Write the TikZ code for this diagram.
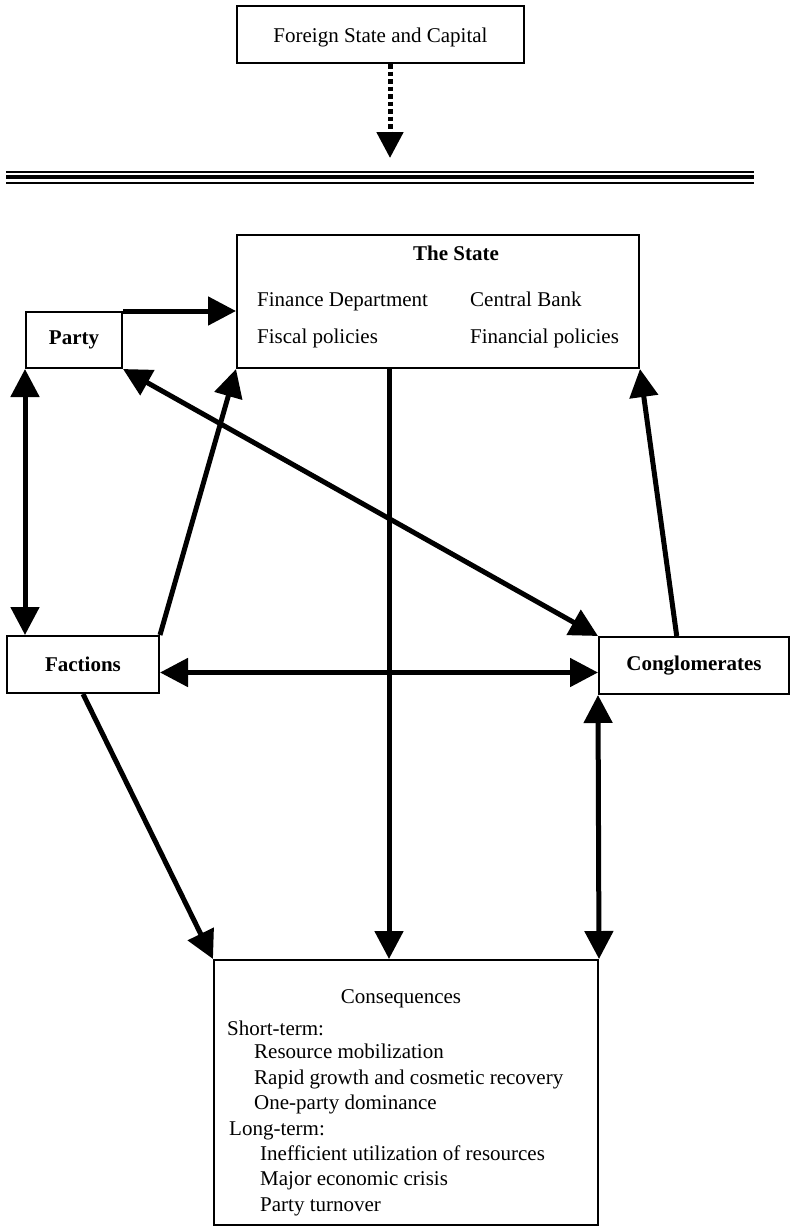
\documentclass[tikz,border=0pt]{standalone}
\usepackage{fontspec}
\setmainfont{Liberation Serif}
\usetikzlibrary{arrows.meta,calc}
\newcommand\dgfont{\fontsize{21}{25}\selectfont}
\begin{document}
\begin{tikzpicture}[x=1pt,y=-1pt,
  box/.style={draw, line width=2pt, inner sep=0pt, font=\dgfont},
  txt/.style={inner sep=0pt, font=\dgfont, anchor=base west},
  arr/.style={line width=5pt, -{Triangle[length=28pt,width=28pt]}},
  dbl/.style={line width=5pt, {Triangle[length=28pt,width=28pt]}-{Triangle[length=28pt,width=28pt]}},
  dotarr/.style={line width=5pt, dash pattern=on 4.5pt off 3pt, -{Triangle[length=26pt,width=26pt]}}]
\useasboundingbox (0,0) rectangle (792,1227);

% boxes
\node[box, minimum width=287pt, minimum height=57pt] (foreign) at (380.5,34.5) {};
\node[txt, anchor=base] (foreigntxt) at (380.5,42) {Foreign State and Capital};

\node[box, minimum width=402pt, minimum height=133pt] (state) at (438,301.5) {};
\node[txt, anchor=base] (statetitle) at (456,260) {\bfseries The State};
\node[txt] (fin) at (257,306) {Finance Department};
\node[txt] (cb) at (470,306) {Central Bank};
\node[txt] (fisc) at (257,343) {Fiscal policies};
\node[txt] (finpol) at (470,343) {Financial policies};

\node[box, minimum width=96pt, minimum height=56pt, font=\dgfont\bfseries] (party) at (74,340) {Party};
\node[box, minimum width=152pt, minimum height=57pt, font=\dgfont\bfseries] (factions) at (83,664.5) {Factions};
\node[box, minimum width=190pt, minimum height=57pt, font=\dgfont\bfseries] (congl) at (694,665.5) {Conglomerates};

\node[box, minimum width=384pt, minimum height=265pt] (cons) at (406,1092.5) {};
\node[txt, anchor=base] (constitle) at (401,1003) {Consequences};
\node[txt] (c1) at (227,1035) {Short-term:};
\node[txt] (c2) at (254,1058.5) {Resource mobilization};
\node[txt] (c3) at (254,1084) {Rapid growth and cosmetic recovery};
\node[txt] (c4) at (254,1109.5) {One-party dominance};
\node[txt] (c5) at (229,1135) {Long-term:};
\node[txt] (c6) at (260,1160.5) {Inefficient utilization of resources};
\node[txt] (c7) at (260,1185.5) {Major economic crisis};
\node[txt] (c8) at (260,1211) {Party turnover};

% triple rule
\draw[line width=2pt] (6,172) -- (754,172);
\draw[line width=4pt] (6,177) -- (754,177);
\draw[line width=2pt] (6,183) -- (754,183);

% connectors
\coordinate (ftip) at (390,158);
\draw[dotarr] (foreign.south -| ftip) -- (ftip);

\draw[arr] (party.north east) -- (party.north east -| state.west);
\draw[dbl] (party.south west) -- (party.south west |- factions.north);
\draw[arr] (factions.north east) -- (state.south west);
\draw[dbl] (party.south east) -- (congl.north west);
\draw[arr] ($(congl.north west)!0.41!(congl.north east)$) -- (state.south east);
\draw[dbl] ([yshift=-8pt]factions.east) -- ([yshift=-8pt]factions.east -| congl.west);
\draw[arr] ([xshift=-49pt]state.south) -- ([xshift=-49pt]state.south |- cons.north);
\draw[dbl] (congl.south west) -- (cons.north east);
\draw[arr] (factions.south) -- (cons.north west);
\end{tikzpicture}
\end{document}
